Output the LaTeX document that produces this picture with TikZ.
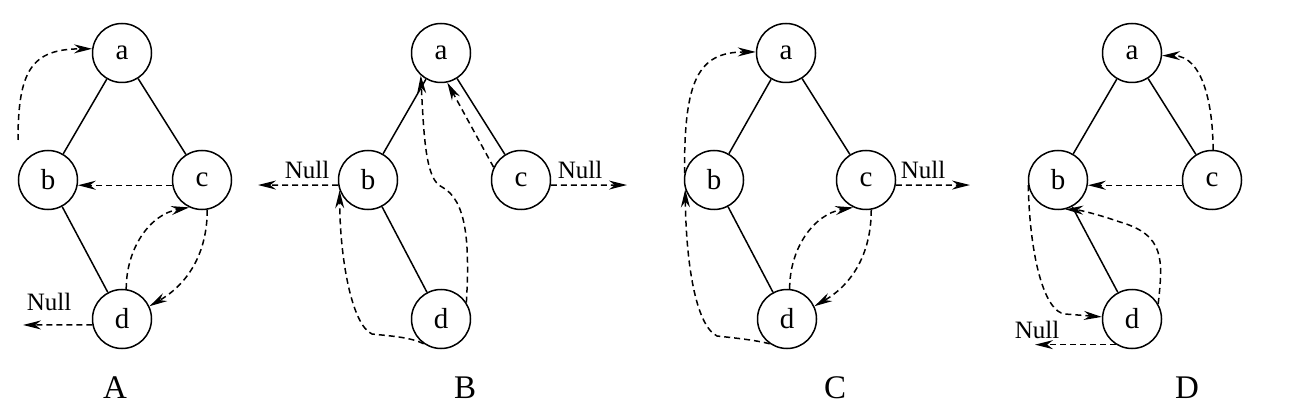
\documentclass[tikz,border=0pt]{standalone}
\usepackage{fontspec}
\setmainfont{Liberation Serif}
\usetikzlibrary{arrows.meta}

\begin{document}
\begin{tikzpicture}[x=0.5pt,y=-0.5pt,
    vtx/.style={draw, circle, line width=0.75pt, minimum size=29.5pt, inner sep=0pt, font=\fontsize{14.5}{16}\selectfont},
    tree/.style={line width=0.75pt},
    thread/.style={dash pattern=on 3pt off 2pt, line width=0.75pt, -{Stealth[length=9pt,width=4.5pt]}},
    nul/.style={font=\fontsize{12.5}{14}\selectfont},
    panel/.style={font=\fontsize{16.5}{19}\selectfont}]
    \useasboundingbox (0,0) rectangle (1305,411);

    % A
    \node[vtx] (aA) at (122,53) {a};
    \node[vtx] (bA) at (48,180) {b};
    \node[vtx] (cA) at (202,180) {c};
    \node[vtx] (dA) at (122,319) {d};
    \draw[tree] (aA) -- (bA);
    \draw[tree] (aA) -- (cA);
    \draw[tree] (bA) -- (dA);
    \coordinate (sA) at (18,140);
    \coordinate (nA) at (23,325);
    \draw[thread] (sA) .. controls (18,70) and (32,49) .. (aA.172);
    \draw[thread] (cA.190) -- (bA.-10);
    \draw[thread] (dA.82) to[out=90,in=190] (cA.-115);
    \draw[thread] (cA.-80) to[out=-90,in=30] (dA.25);
    \draw[thread] (dA.191) -- (nA);
    \node[nul] (tA) at (49,302) {Null};
    \node[panel] (lA) at (115,388) {A};

    % B
    \node[vtx] (aB) at (441,53) {a};
    \node[vtx] (bB) at (368,180) {b};
    \node[vtx] (cB) at (521,180) {c};
    \node[vtx] (dB) at (441,319) {d};
    \draw[tree] (aB) -- (bB);
    \draw[tree] (aB) -- (cB);
    \draw[tree] (bB) -- (dB);
    \coordinate (nB1) at (258,185);
    \coordinate (nB2) at (627,185);
    \draw[thread] (cB.155) -- (aB.-78);
    \draw[thread] (dB.33) .. controls (470,240) and (466,200) .. (442,187)
        .. controls (426,180) and (424,140) .. (aB.-132);
    \draw[thread] (dB.-125) .. controls (410,337) and (390,336) .. (372,334)
        .. controls (352,325) and (340,260) .. (bB.-160);
    \draw[thread] (bB.190) -- (nB1);
    \draw[thread] (cB.-10) -- (nB2);
    \node[nul] (tB1) at (307,170) {Null};
    \node[nul] (tB2) at (580,170) {Null};
    \node[panel] (lB) at (465,388) {B};

    % C
    \node[vtx] (aC) at (786,53) {a};
    \node[vtx] (bC) at (714,180) {b};
    \node[vtx] (cC) at (866,180) {c};
    \node[vtx] (dC) at (787,319) {d};
    \draw[tree] (aC) -- (bC);
    \draw[tree] (aC) -- (cC);
    \draw[tree] (bC) -- (dC);
    \coordinate (nC) at (970,185);
    \draw[thread] (bC.167) .. controls (684,80) and (698,52) .. (aC.178);
    \draw[thread] (dC.-125) .. controls (755,340) and (735,338) .. (717,336)
        .. controls (695,325) and (686,260) .. (bC.-162);
    \draw[thread] (dC.85) to[out=90,in=190] (cC.-115);
    \draw[thread] (cC.-80) to[out=-90,in=30] (dC.25);
    \draw[thread] (cC.-10) -- (nC);
    \node[nul] (tC) at (923,170) {Null};
    \node[panel] (lC) at (835,388) {C};

    % D
    \node[vtx] (aD) at (1132,53) {a};
    \node[vtx] (bD) at (1058,180) {b};
    \node[vtx] (cD) at (1212,180) {c};
    \node[vtx] (dD) at (1132,319) {d};
    \draw[tree] (aD) -- (bD);
    \draw[tree] (aD) -- (cD);
    \draw[tree] (bD) -- (dD);
    \coordinate (nD) at (1035,346);
    \draw[thread] (cD.88) to[out=90,in=0] (aD.-5);
    \draw[thread] (cD.190) -- (bD.-10);
    \draw[thread] (dD.30) .. controls (1163,260) and (1165,235) .. (1120,222)
        .. controls (1100,215) and (1080,210) .. (bD.-76);
    \draw[thread] (bD.190) .. controls (1030,260) and (1045,312) .. (1065,314) -- (dD.176);
    \draw[thread] (dD.-122) -- (dD.-122 -| nD);
    \node[nul] (tD) at (1037,330) {Null};
    \node[panel] (lD) at (1187,388) {D};
\end{tikzpicture}
\end{document}
